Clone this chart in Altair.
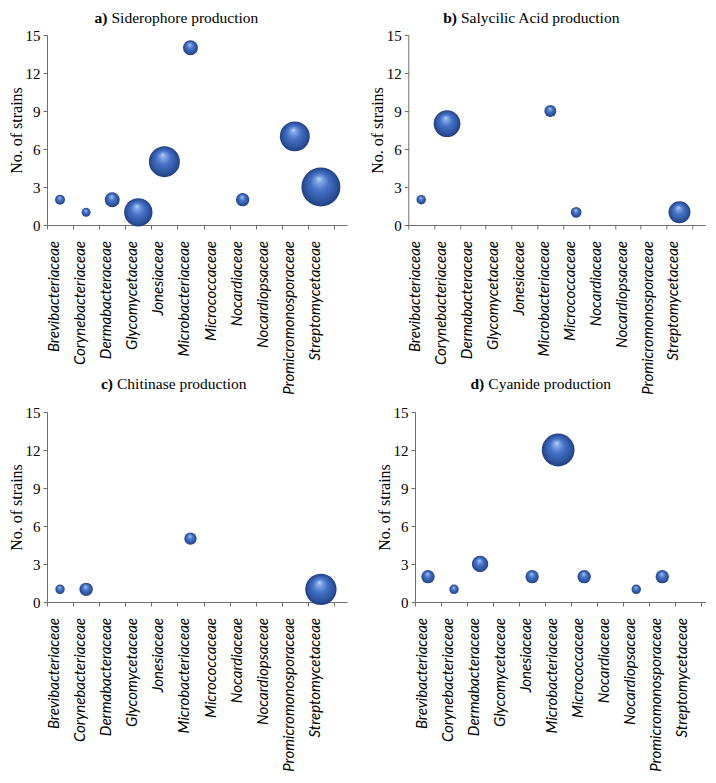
import altair as alt
import pandas as pd

families = ["Brevibacteriaceae", "Corynebacteriaceae", "Dermabacteraceae", "Glycomycetaceae",
            "Jonesiaceae", "Microbacteriaceae", "Micrococcaceae", "Nocardiaceae",
            "Nocardiopsaceae", "Promicromonosporaceae", "Streptomycetaceae"]

# a) Siderophore production
sid_strains = [2, 1, 2, 1, 5, 14, None, 2, None, 7, 3]
sid_bubble = [1.1, 0.9, 2.5, 9.0, 10.7, 2.5, None, 2.0, None, 10.0, 17.0]
# b) Salycilic Acid production
sal_strains = [2, 8, None, None, None, 9, 1, None, None, None, 1]
sal_bubble = [1.0, 8.0, None, None, None, 1.6, 1.3, None, None, None, 5.4]
# c) Chitinase production
chi_strains = [1, 1, None, None, None, 5, None, None, None, None, 1]
chi_bubble = [1.0, 2.0, None, None, None, 1.7, None, None, None, None, 11.0]
# d) Cyanide production
cya_strains = [2, 1, 3, None, 2, 12, 2, None, 1, 2, None]
cya_bubble = [2, 1, 3, None, 2, 12, 2, None, 1, 2, None]

y_ticks = [0, 3, 6, 9, 12, 15]
x_ticks = [0.5 + i for i in range(12)]

SERIF = "Liberation Serif"
LABEL_FONT = "Lato"
AXIS_COLOR = "#6e6e6e"
H = 190

grad = {
    "gradient": "radial",
    "x1": 0.45, "y1": 0.28, "r1": 0.0,
    "x2": 0.5, "y2": 0.5, "r2": 0.5,
    "stops": [
        {"offset": 0.0, "color": "#c4d8f7"},
        {"offset": 0.14, "color": "#86aae8"},
        {"offset": 0.45, "color": "#4672c6"},
        {"offset": 0.82, "color": "#2e539e"},
        {"offset": 1.0, "color": "#223f80"},
    ],
}


def panel(strains, bubble, bold, rest, width, xmax, rest_x, title_y):
    df = pd.DataFrame({
        "idx": list(range(1, len(families) + 1)),
        "family": families,
        "strains": strains,
        "bubble": bubble,
    })
    pts = df.dropna(subset=["strains"])
    xenc = alt.X(
        "idx:Q",
        scale=alt.Scale(domain=[0.5, xmax], nice=False, zero=False),
        axis=alt.Axis(values=x_ticks, labels=False, title=None, grid=False,
                      tickSize=4, tickColor=AXIS_COLOR, domainColor=AXIS_COLOR),
    )
    yenc = alt.Y(
        "strains:Q",
        scale=alt.Scale(domain=[0, 15], nice=False, zero=True),
        axis=alt.Axis(values=y_ticks, title="No. of strains", grid=False,
                      tickSize=4, tickColor=AXIS_COLOR, domainColor=AXIS_COLOR,
                      labelFont=SERIF, labelFontSize=15, labelColor="black", labelPadding=3,
                      titleFont=SERIF, titleFontSize=16, titleFontWeight="normal",
                      titleColor="black", titleX=-31, titleY=H / 2,
                      titleBaseline="middle"),
    )
    bubbles = alt.Chart(pts).mark_circle(fill=grad, opacity=1).encode(
        x=xenc,
        y=yenc,
        size=alt.Size("bubble:Q",
                      scale=alt.Scale(domain=[0, float(pts["bubble"].max())], range=[0, 1521]),
                      legend=None),
    )
    labels = alt.Chart(df).mark_text(
        angle=270, align="right", baseline="alphabetic", dy=-1,
        font=LABEL_FONT, fontStyle="italic", fontSize=15, color="black",
    ).encode(x=xenc, y=alt.value(H + 16), text="family:N")
    t_bold = alt.Chart(pd.DataFrame({"t": [bold]})).mark_text(
        align="right", baseline="alphabetic", font=SERIF, fontSize=15.5,
        fontWeight="bold", color="black",
    ).encode(x=alt.value(rest_x - 4), y=alt.value(title_y), text="t:N")
    t_rest = alt.Chart(pd.DataFrame({"t": [rest]})).mark_text(
        align="left", baseline="alphabetic", font=SERIF, fontSize=15.5, color="black",
    ).encode(x=alt.value(rest_x), y=alt.value(title_y), text="t:N")
    return alt.layer(bubbles, labels, t_bold, t_rest).properties(width=width, height=H)


pa = panel(sid_strains, sid_bubble, "a)", "Siderophore production", 300, 12.0, 64.5, -12)
pb = panel(sal_strains, sal_bubble, "b)", "Salycilic Acid production", 297, 12.0, 52.7, -12)
pc = panel(chi_strains, chi_bubble, "c)", "Chitinase production", 300, 12.0, 70, -23)
pd_ = panel(cya_strains, cya_bubble, "d)", "Cyanide production", 291, 11.68, 73.3, -23)

row1 = alt.hconcat(pa, pb, spacing=61.3, bounds="flush")
row2 = alt.hconcat(pc, pd_, spacing=68, bounds="flush")
chart = alt.vconcat(row1, row2, spacing=377, bounds="flush").properties(
    padding={"left": 0, "top": 3, "right": 0, "bottom": 0}
).configure(
    background="white",
    view=alt.ViewConfig(strokeWidth=0, strokeOpacity=0),
)

chart.save("out.html", embed_options={"renderer": "svg", "actions": False})
